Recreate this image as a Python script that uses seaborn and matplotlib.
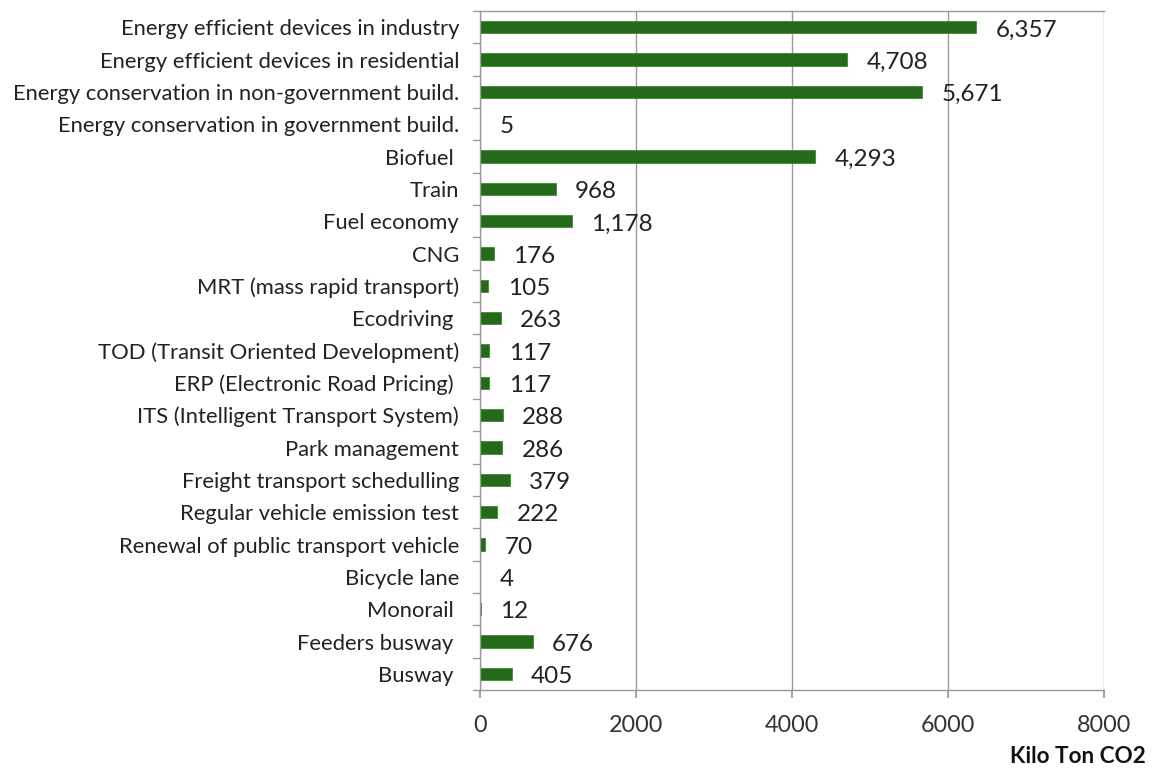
import matplotlib
matplotlib.use("Agg")
import matplotlib.pyplot as plt
import seaborn as sns
import pandas as pd

categories = [
    "Energy efficient devices in industry",
    "Energy efficient devices in residential",
    "Energy conservation in non-government build.",
    "Energy conservation in government build.",
    "Biofuel ",
    "Train",
    "Fuel economy",
    "CNG",
    "MRT (mass rapid transport)",
    "Ecodriving ",
    "TOD (Transit Oriented Development)",
    "ERP (Electronic Road Pricing) ",
    "ITS (Intelligent Transport System)",
    "Park management",
    "Freight transport schedulling",
    "Regular vehicle emission test",
    "Renewal of public transport vehicle",
    "Bicycle lane",
    "Monorail ",
    "Feeders busway ",
    "Busway ",
]
values = [6357, 4708, 5671, 5, 4293, 968, 1178, 176, 105, 263, 117, 117,
          288, 286, 379, 222, 70, 4, 12, 676, 405]
x_ticks = [0, 2000, 4000, 6000, 8000]
x_label = "Kilo Ton CO2"

sns.set_theme(style="white")
plt.rcParams["font.family"] = ["Lato", "DejaVu Sans"]

df = pd.DataFrame({"measure": categories, "value": values})

fig = plt.figure(figsize=(11.57, 7.76), dpi=100)
ax = fig.add_axes([0.4149, 0.1108, 0.5393, 0.875])

bar_color = "#256a1b"
sns.barplot(data=df, y="measure", x="value", orient="h", color=bar_color,
            width=0.38, saturation=1, ax=ax, edgecolor="#3d8a30", linewidth=0.6)

n = len(categories)
ax.set_xlim(0, 8000)
ax.set_xticks(x_ticks)
ax.set_xticklabels([str(t) for t in x_ticks], fontsize=16.8, color="#333333")
ax.tick_params(axis="x", pad=12, length=6, color="#999999", direction="out", bottom=True)
ax.grid(axis="x", color="#999999", linewidth=1.0)
ax.set_axisbelow(True)

# y ticks sit between categories, labels at the centres
ax.set_yticks(range(n))
ax.set_yticklabels(categories, fontsize=15.8, color="#222222")
ax.tick_params(axis="y", length=0, pad=15)
for b in [i - 0.5 for i in range(n + 1)]:
    ax.plot([-0.012, 0], [b, b], transform=ax.get_yaxis_transform(),
            color="#999999", linewidth=1.0, clip_on=False)
ax.set_ylim(n - 0.5, -0.5)

for s in ["left", "bottom", "top"]:
    ax.spines[s].set_visible(True)
    ax.spines[s].set_color("#999999")
    ax.spines[s].set_linewidth(1.0)
ax.spines["right"].set_visible(False)

ax.set_xlabel("")
ax.set_ylabel("")

for i, v in enumerate(values):
    ax.annotate(f"{v:,}", xy=(v, i), xytext=(14, -2), textcoords="offset points",
                ha="left", va="center", fontsize=17.5, color="#222222")

fig.text(0.99, 0.012, x_label, ha="right", va="bottom", fontsize=16.2,
         fontweight="bold", color="#111111")

fig.savefig("out.png", dpi=100)
